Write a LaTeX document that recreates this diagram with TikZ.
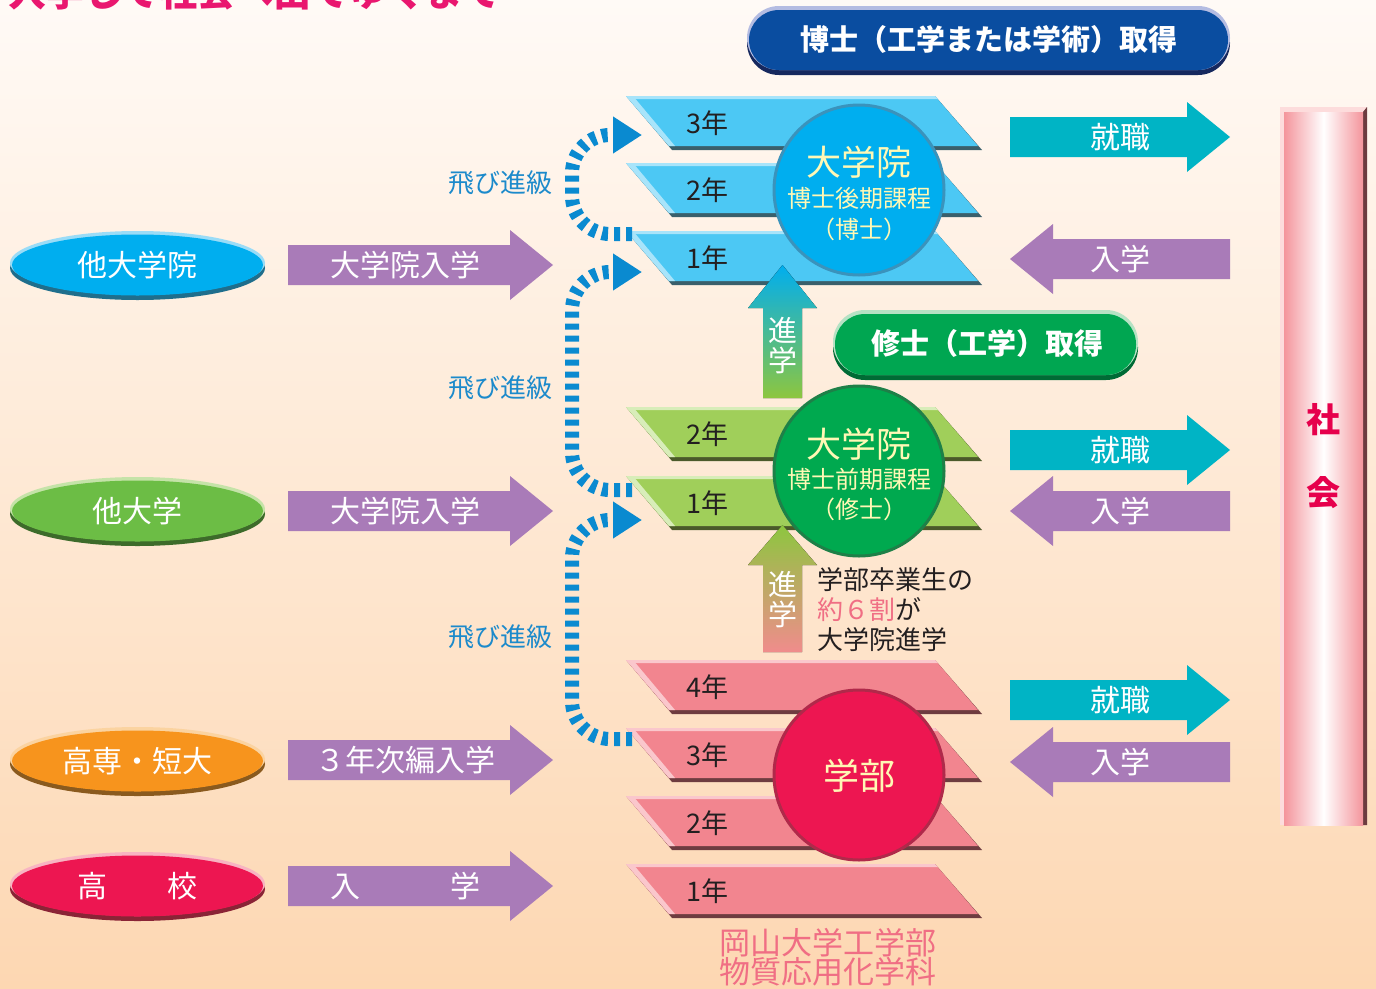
\documentclass[tikz,border=0pt]{standalone}
\usepackage{fontspec}
\setmainfont{Noto Sans CJK JP}
\usetikzlibrary{shapes.geometric,arrows.meta}
\definecolor{bgtop}{HTML}{FFFAF6}
\definecolor{bgbot}{HTML}{FDD7B2}
\definecolor{ttl}{HTML}{E9176F}
\definecolor{phdc}{HTML}{0A4DA0}
\definecolor{phdlt}{HTML}{B4BCE2}
\definecolor{phddk}{HTML}{16285E}
\definecolor{msc}{HTML}{00A651}
\definecolor{mslt}{HTML}{B6E2C4}
\definecolor{msdk}{HTML}{006B35}
\definecolor{bfill}{HTML}{4CC8F4}
\definecolor{bdark}{HTML}{3A5F6B}
\definecolor{blight}{HTML}{A8E4FA}
\definecolor{gfill}{HTML}{A0CF5A}
\definecolor{gdark}{HTML}{4B5A2A}
\definecolor{glight}{HTML}{D8EDB9}
\definecolor{pfill}{HTML}{F2858F}
\definecolor{pdark}{HTML}{6E3C40}
\definecolor{plight}{HTML}{FAC7CC}
\definecolor{cblue}{HTML}{00AEEF}
\definecolor{cbluerim}{HTML}{3A93BC}
\definecolor{cgreen}{HTML}{00A94F}
\definecolor{cgreenrim}{HTML}{1E8048}
\definecolor{cred}{HTML}{ED1651}
\definecolor{credrim}{HTML}{B0294A}
\definecolor{ctext}{HTML}{FFF8B5}
\definecolor{yrtext}{HTML}{231F20}
\definecolor{purp}{HTML}{A97BB8}
\definecolor{teal}{HTML}{00B4C5}
\definecolor{jump}{HTML}{0A8AD0}
\definecolor{jumptext}{HTML}{1C8ACB}
\definecolor{arblue}{HTML}{00AEEF}
\definecolor{argreen}{HTML}{8DC63F}
\definecolor{arpink}{HTML}{F08C8C}
\definecolor{pinktext}{HTML}{F06E84}
\definecolor{shpink}{HTML}{F4959C}
\definecolor{shrim}{HTML}{FDDCDC}
\definecolor{shdark}{HTML}{6D3B3F}
\definecolor{shtext}{HTML}{E6004C}
\definecolor{obmain}{HTML}{00AEEF}\definecolor{oblt}{HTML}{9ADCF7}\definecolor{obdk}{HTML}{1F6E8C}
\definecolor{ogmain}{HTML}{6CBD45}\definecolor{oglt}{HTML}{C5E3A8}\definecolor{ogdk}{HTML}{3D6B2A}
\definecolor{oomain}{HTML}{F7941D}\definecolor{oolt}{HTML}{FBD3A0}\definecolor{oodk}{HTML}{8A5A1E}
\definecolor{ormain}{HTML}{ED1651}\definecolor{orlt}{HTML}{F8B4C2}\definecolor{ordk}{HTML}{8A2436}
\newcommand{\myfs}[1]{\fontsize{#1}{#1}\selectfont}
% year bar
\newcommand{\ybar}[6]{%
  \fill[#4] (626,#2) -- (935,#2) -- (982,#2+54) -- (672,#2+54) -- cycle;
  \fill[#3] (626,#2) -- (935,#2) -- (978,#2+50) -- (669,#2+50) -- cycle;
  \fill[#5] (626,#2) -- (935,#2) -- (938,#2+3) -- (629,#2+3) -- cycle;
  \fill[#5] (626,#2) -- (633,#2) -- (675,#2+50) -- (669,#2+50) -- cycle;
  \node[yr] (#1) at (707,#2+27) {#6};}
% right arrow: name, xl, xtip, yc, color, textx, text
\newcommand{\rarrow}[7]{%
  \fill[#5] (#2,#4-20) -- (#3-43,#4-20) -- (#3-43,#4-35) -- (#3,#4) -- (#3-43,#4+35) -- (#3-43,#4+20) -- (#2,#4+20) -- cycle;
  \node[lbl] (#1) at (#6,#4) {#7};}
% left arrow: name, xtip, xr, yc, color, textx, text
\newcommand{\larrow}[7]{%
  \fill[#5] (#3,#4-20) -- (#2+43,#4-20) -- (#2+43,#4-35) -- (#2,#4) -- (#2+43,#4+35) -- (#2+43,#4+20) -- (#3,#4+20) -- cycle;
  \node[lbl] (#1) at (#6,#4) {#7};}
% oval: name, yc, main, light, dark, text
\newcommand{\myoval}[6]{%
  \fill[#5] (137.5,#2+3) ellipse [x radius=127.5, y radius=32];
  \fill[#4] (137.5,#2-2) ellipse [x radius=127.5, y radius=32];
  \node[ellipse, minimum width=251, minimum height=61, inner sep=0, fill=#3] (#1) at (137.5,#2) {};
  \node[lbl] (#1t) at (137.5,#2) {#6};}
\begin{document}
\begin{tikzpicture}[x=1pt,y=-1pt,
  lbl/.style={inner sep=0, text=white, font=\myfs{30}},
  yr/.style={inner sep=0, text=yrtext, font=\myfs{27}},
  ctxt/.style={inner sep=0, text=ctext},
  jumptxt/.style={inner sep=0, text=jumptext, font=\myfs{26}},
  jumpline/.style={draw=jump, line width=14pt, dash pattern=on 6pt off 6pt, rounded corners=38pt, -{Triangle[length=29pt,width=35pt]}},
  pilltxt/.style={inner sep=0, text=white, font=\myfs{29}\bfseries}]
\path[use as bounding box] (0,0) rectangle (1376,988);
\clip (0,0) rectangle (1376,988);
\fill[top color=bgtop, bottom color=bgbot] (0,0) rectangle (1376,988);
% cut title
\node[anchor=base west, inner sep=0, text=ttl, font=\myfs{38}\bfseries] (title) at (8,6) {入学して社会へ出てゆくまで};
% PhD pill
\fill[phddk, rounded corners=32pt] (747,11) rectangle (1230,75);
\fill[phdlt, rounded corners=32pt] (747,6) rectangle (1230,70);
\node[rectangle, rounded corners=30pt, fill=phdc, minimum width=479, minimum height=60, inner sep=0] (phd) at (988.5,40) {};
\node[pilltxt] (phdt) at (988.5,39) {博士（工学または学術）取得};
% Master pill
\fill[msdk, rounded corners=32pt] (833,315) rectangle (1138,380);
\fill[mslt, rounded corners=32pt] (833,310) rectangle (1138,375);
\node[rectangle, rounded corners=30pt, fill=msc, minimum width=301, minimum height=61, inner sep=0] (msc) at (985.5,344.5) {};
\node[pilltxt] (msct) at (987,343) {修士（工学）取得};
% year bars
\ybar{b3}{96}{bfill}{bdark}{blight}{3年}
\ybar{b2}{163}{bfill}{bdark}{blight}{2年}
\ybar{b1}{231}{bfill}{bdark}{blight}{1年}
\ybar{g2}{407}{gfill}{gdark}{glight}{2年}
\ybar{g1}{476}{gfill}{gdark}{glight}{1年}
\ybar{p4}{660}{pfill}{pdark}{plight}{4年}
\ybar{p3}{728}{pfill}{pdark}{plight}{3年}
\ybar{p2}{796}{pfill}{pdark}{plight}{2年}
\ybar{p1}{864}{pfill}{pdark}{plight}{1年}
% jump curves
\coordinate (j1s) at (632,234); \coordinate (j1e) at (642,135);
\coordinate (j2s) at (632,490); \coordinate (j2e) at (642,272);
\coordinate (j3s) at (632,739); \coordinate (j3e) at (642,520);
\draw[jumpline] (j1s) -- (572,234) -- (572,135) -- (j1e);
\draw[jumpline] (j2s) -- (572,490) -- (572,272) -- (j2e);
\draw[jumpline] (j3s) -- (572,739) -- (572,520) -- (j3e);
\node[jumptxt] (jt1) at (500,183) {飛び進級};
\node[jumptxt] (jt2) at (500,388) {飛び進級};
\node[jumptxt] (jt3) at (500,637) {飛び進級};
% vertical arrows
\fill[top color=arblue, bottom color=argreen] (763,398) -- (763,308) -- (748,308) -- (782.5,265) -- (817,308) -- (802,308) -- (802,398) -- cycle;
\node[inner sep=0, text=white, font=\myfs{29}, align=center] (up1) at (782.5,346) {進\\[1pt]学};
\fill[top color=argreen, bottom color=arpink] (763,652) -- (763,565) -- (748,565) -- (782.5,525) -- (817,565) -- (802,565) -- (802,652) -- cycle;
\node[inner sep=0, text=white, font=\myfs{29}, align=center] (up2) at (782.5,600) {進\\[1pt]学};
\node[anchor=west, inner sep=0, text=yrtext, font=\myfs{26}, align=left] (note) at (817,610) {学部卒業生の\\[4pt]\textcolor{pinktext}{約６割}が\\[4pt]大学院進学};
% circles
\node[circle, minimum size=170, inner sep=0, fill=cblue, draw=cbluerim, line width=3pt] (cphd) at (859,190) {};
\node[ctxt, font=\myfs{35}] (cphd1) at (859,162) {大学院};
\node[ctxt, font=\myfs{24}] (cphd2) at (859,198) {博士後期課程};
\node[ctxt, font=\myfs{24}] (cphd3) at (859,229) {（博士）};
\node[circle, minimum size=170, inner sep=0, fill=cgreen, draw=cgreenrim, line width=3pt] (cms) at (859,471) {};
\node[ctxt, font=\myfs{35}] (cms1) at (859,444) {大学院};
\node[ctxt, font=\myfs{24}] (cms2) at (859,479) {博士前期課程};
\node[ctxt, font=\myfs{24}] (cms3) at (859,509) {（修士）};
\node[circle, minimum size=170, inner sep=0, fill=cred, draw=credrim, line width=3pt] (cug) at (859,775) {};
\node[ctxt, font=\myfs{36}] (cug1) at (859,776) {学部};
% left ovals
\myoval{o1}{265}{obmain}{oblt}{obdk}{他大学院}
\myoval{o2}{511}{ogmain}{oglt}{ogdk}{他大学}
\myoval{o3}{761}{oomain}{oolt}{oodk}{高専・短大}
\myoval{o4}{886}{ormain}{orlt}{ordk}{高\hspace{2em}校}
% left purple arrows
\rarrow{a1}{288}{553}{265}{purp}{405}{大学院入学}
\rarrow{a2}{288}{553}{511}{purp}{405}{大学院入学}
\rarrow{a3}{288}{553}{760}{purp}{405}{３年次編入学}
\rarrow{a4}{288}{553}{886}{purp}{405}{入\hspace{3em}学}
% right arrows
\rarrow{r1}{1010}{1230}{137}{teal}{1120}{就職}
\larrow{l1}{1010}{1230}{259}{purp}{1120}{入学}
\rarrow{r2}{1010}{1230}{450}{teal}{1120}{就職}
\larrow{l2}{1010}{1230}{511}{purp}{1120}{入学}
\rarrow{r3}{1010}{1230}{700}{teal}{1120}{就職}
\larrow{l3}{1010}{1230}{762}{purp}{1120}{入学}
% society bar
\fill[shrim] (1280,107) rectangle (1367,825);
\fill[shdark] (1363,112) -- (1367,107) -- (1367,825) -- (1363,825) -- cycle;
\fill[left color=shpink, right color=shpink, middle color=white] (1284,112) rectangle (1363,825);
\node[inner sep=0, text=shtext, font=\myfs{34}\bfseries] (sha) at (1323,420) {社};
\node[inner sep=0, text=shtext, font=\myfs{34}\bfseries] (kai) at (1323,493) {会};
% bottom caption
\node[inner sep=0, text=pinktext, font=\myfs{31}, align=center] (dept) at (828,957) {岡山大学工学部\\[-2pt]物質応用化学科};
\end{tikzpicture}
\end{document}
